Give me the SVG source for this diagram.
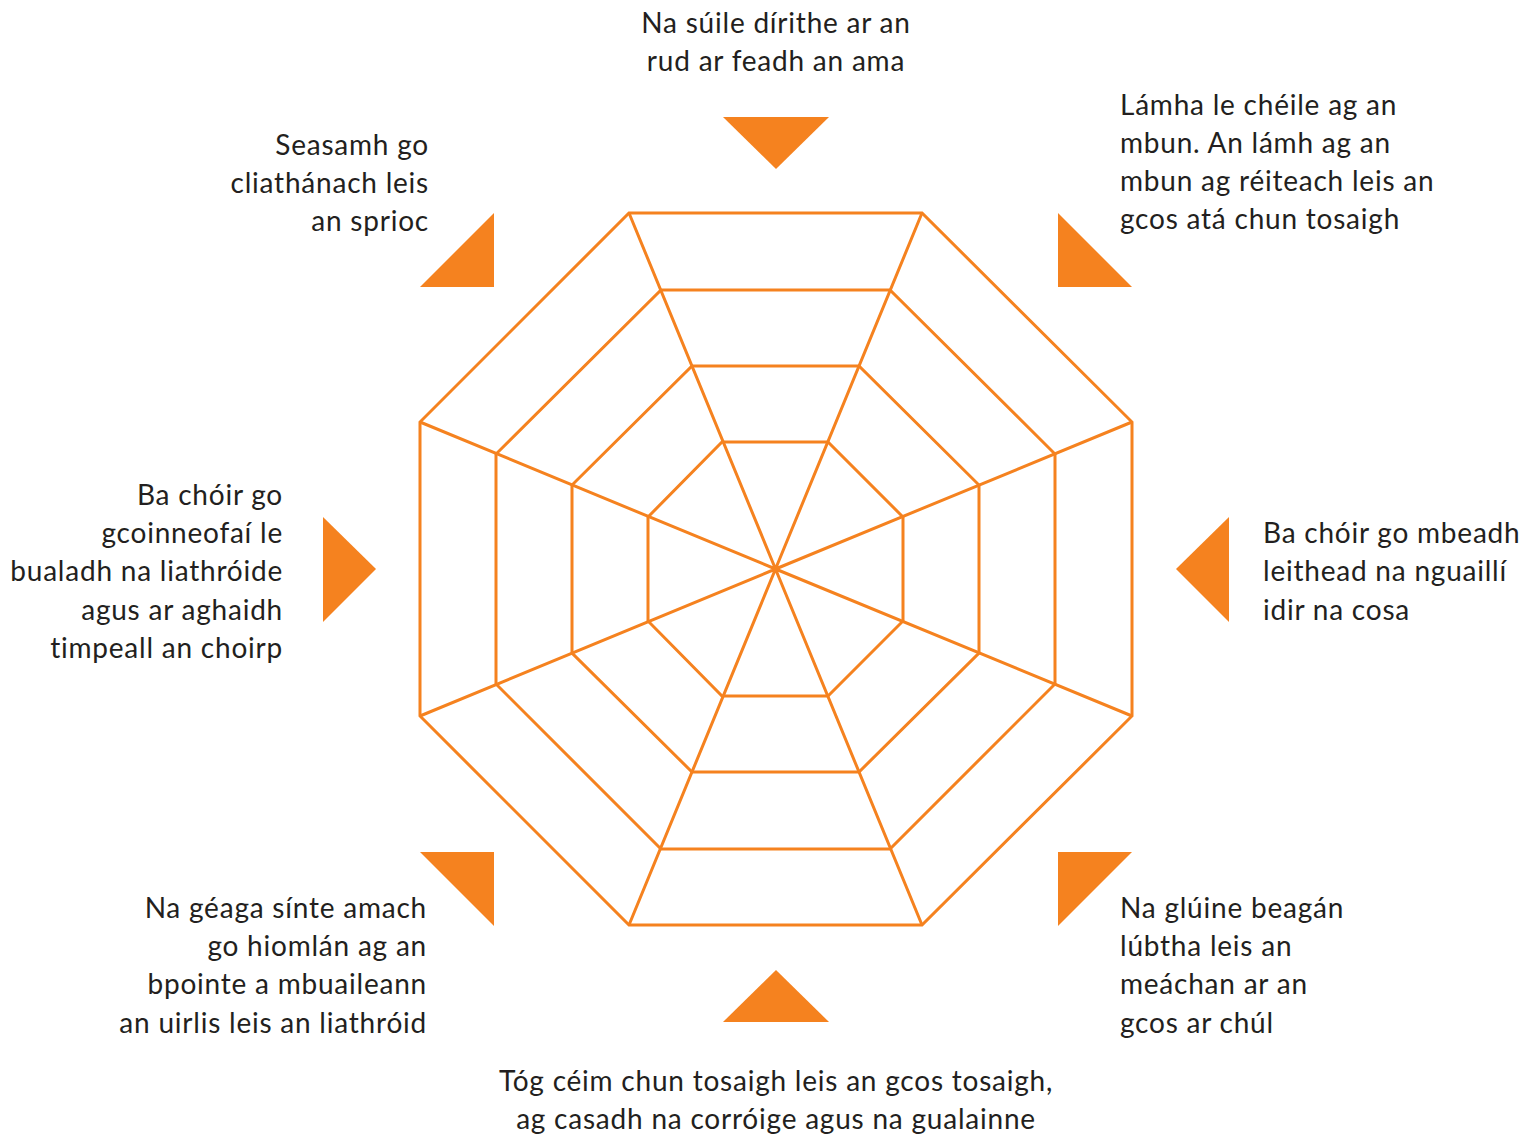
<svg xmlns="http://www.w3.org/2000/svg" width="1523" height="1137" viewBox="0 0 1523 1137">
<style>
.web{fill:none;stroke:#F5821F;stroke-width:3;stroke-linejoin:miter}
.tri{fill:#F5821F}
text{font-family:Lato,"Open Sans",sans-serif;font-size:28px;letter-spacing:0.78px;fill:#231F20}
.r{text-anchor:end}
.m{text-anchor:middle}
</style>
<rect width="1523" height="1137" fill="#fff"/>
<g id="web">
<polygon class="web" points="629,213 922,213 1132,422 1132,716 922,925 629,925 420,716 420,422"/>
<polygon class="web" points="661,290 890,290 1055,454 1055,684 890,849 661,849 496,684 496,454"/>
<polygon class="web" points="692,366 859,366 979,485 979,653 859,772 692,772 572,653 572,485"/>
<polygon class="web" points="722,442 828,442 903,517 903,621 828,696 722,696 648,621 648,517"/>
</g>
<g id="connectors">
<path class="web" d="M775.5,569 L629,213 M775.5,569 L922,213 M775.5,569 L1132,422 M775.5,569 L1132,716 M775.5,569 L922,925 M775.5,569 L629,925 M775.5,569 L420,716 M775.5,569 L420,422"/>
</g>
<g id="markers">
<polygon class="tri" points="723,117 829,117 776,169"/>
<polygon class="tri" points="1229,517 1229,622 1176,569"/>
<polygon class="tri" points="723,1022 829,1022 776,970"/>
<polygon class="tri" points="323,517 323,622 376,569"/>
<polygon class="tri" points="494,213 494,287 420,287"/>
<polygon class="tri" points="1058,213 1058,287 1132,287"/>
<polygon class="tri" points="1058,852 1132,852 1058,926"/>
<polygon class="tri" points="420,852 494,852 494,926"/>
</g>
<g id="label-top">
<text class="m" x="776" y="33">Na súile dírithe ar an</text>
<text class="m" x="776" y="71">rud ar feadh an ama</text>
</g>
<g id="label-top-right">
<text x="1120" y="115">Lámha le chéile ag an</text>
<text x="1120" y="153">mbun. An lámh ag an</text>
<text x="1120" y="191">mbun ag réiteach leis an</text>
<text x="1120" y="229">gcos atá chun tosaigh</text>
</g>
<g id="label-right">
<text x="1263" y="543">Ba chóir go mbeadh</text>
<text x="1263" y="581">leithead na nguaillí</text>
<text x="1263" y="620">idir na cosa</text>
</g>
<g id="label-bottom-right">
<text x="1120" y="918">Na glúine beagán</text>
<text x="1120" y="956">lúbtha leis an</text>
<text x="1120" y="994">meáchan ar an</text>
<text x="1120" y="1033">gcos ar chúl</text>
</g>
<g id="label-bottom">
<text class="m" x="776" y="1091">Tóg céim chun tosaigh leis an gcos tosaigh,</text>
<text class="m" x="776" y="1129">ag casadh na corróige agus na gualainne</text>
</g>
<g id="label-bottom-left">
<text class="r" x="427" y="918">Na géaga sínte amach</text>
<text class="r" x="427" y="956">go hiomlán ag an</text>
<text class="r" x="427" y="994">bpointe a mbuaileann</text>
<text class="r" x="427" y="1033">an uirlis leis an liathróid</text>
</g>
<g id="label-left">
<text class="r" x="283" y="505">Ba chóir go</text>
<text class="r" x="283" y="543">gcoinneofaí le</text>
<text class="r" x="283" y="581">bualadh na liathróide</text>
<text class="r" x="283" y="620">agus ar aghaidh</text>
<text class="r" x="283" y="658">timpeall an choirp</text>
</g>
<g id="label-top-left">
<text class="r" x="429" y="155">Seasamh go</text>
<text class="r" x="429" y="193">cliathánach leis</text>
<text class="r" x="429" y="231">an sprioc</text>
</g>
</svg>
